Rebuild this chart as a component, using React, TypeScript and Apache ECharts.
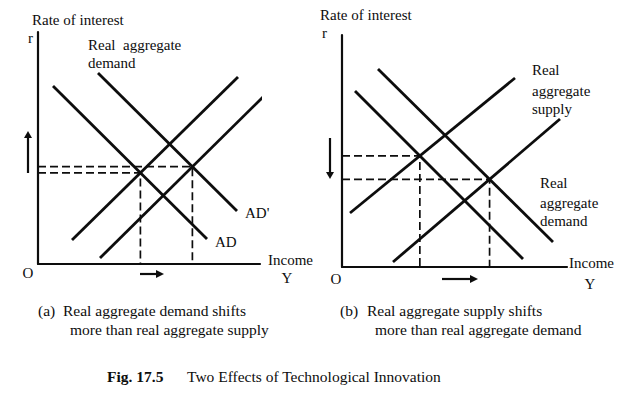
import React, { useEffect, useRef } from "react";
import * as echarts from "echarts";

// Panel (a): curve end points (x = income, y = rate of interest)
const adA: number[][] = [[15, 178], [169, 25]];
const adPrimeA: number[][] = [[60, 191], [199, 53]];
const supplyA1: number[][] = [[34, 24], [200, 187]];
const supplyA2: number[][] = [[62, 6], [229, 171]];

// Panel (b): curve end points
const demandB1: number[][] = [[13, 176], [181, 8]];
const demandB2: number[][] = [[36, 198], [211, 25]];
const supplyB1: number[][] = [[8, 54], [173, 189]];
const supplyB2: number[][] = [[51, 5], [218, 148]];

// Axis extents of each panel
const axisMaxA = [222, 232];
const axisMaxB = [225, 232];

function intersect(a: number[][], b: number[][]): number[] {
  const [[x1, y1], [x2, y2]] = a;
  const [[x3, y3], [x4, y4]] = b;
  const m1 = (y2 - y1) / (x2 - x1);
  const m2 = (y4 - y3) / (x4 - x3);
  const x = (y3 - y1 + m1 * x1 - m2 * x3) / (m1 - m2);
  return [x, y1 + m1 * (x - x1)];
}

const INK = "#0d0d0d";
const FONT = "'Liberation Serif', 'Times New Roman', serif";

export default function App() {
  const ref = useRef<HTMLDivElement>(null);
  useEffect(() => {
    if (!ref.current) return;
    const chart = echarts.init(ref.current, null, { renderer: "svg" });
    const solid = (data: number[][], idx: number) => ({
      type: "line",
      data,
      xAxisIndex: idx,
      yAxisIndex: idx,
      symbol: "none",
      silent: true,
      lineStyle: { color: INK, width: 2.8 },
    });
    const dashed = (e: number[], idx: number) => ({
      type: "line",
      data: [[0, e[1]], [e[0], e[1]], [e[0], 0]],
      xAxisIndex: idx,
      yAxisIndex: idx,
      symbol: "none",
      silent: true,
      lineStyle: { color: INK, width: 1.7, type: [8, 4] },
    });
    const eA1 = intersect(adA, supplyA1);
    const eA2 = intersect(adPrimeA, supplyA2);
    const eB1 = intersect(demandB1, supplyB1);
    const eB2 = intersect(demandB2, supplyB2);
    const axisBase = {
      type: "value",
      axisLine: { show: true, lineStyle: { color: INK, width: 2.2 } },
      axisTick: { show: false },
      axisLabel: { show: false },
      splitLine: { show: false },
    };
    const txt = (
      text: string,
      x: number,
      y: number,
      opts: any = {}
    ) => ({
      type: "text",
      x,
      y,
      silent: true,
      style: {
        text,
        fill: INK,
        font: `${opts.weight || "normal"} ${opts.size || 15}px ${FONT}`,
        textAlign: opts.align || "left",
        textVerticalAlign: "middle",
      },
    });
    const arrowV = (x: number, y0: number, y1: number) => {
      const dir = y1 > y0 ? 1 : -1;
      return [
        {
          type: "line",
          silent: true,
          shape: { x1: x, y1: y0, x2: x, y2: y1 - dir * 6 },
          style: { stroke: INK, lineWidth: 2.2 },
        },
        {
          type: "polygon",
          silent: true,
          shape: { points: [[x - 4, y1 - dir * 7], [x + 4, y1 - dir * 7], [x, y1]] },
          style: { fill: INK },
        },
      ];
    };
    const arrowH = (y: number, x0: number, x1: number) => [
      {
        type: "line",
        silent: true,
        shape: { x1: x0, y1: y, x2: x1 - 6, y2: y },
        style: { stroke: INK, lineWidth: 2.2 },
      },
      {
        type: "polygon",
        silent: true,
        shape: { points: [[x1 - 8, y - 4], [x1 - 8, y + 4], [x1, y]] },
        style: { fill: INK },
      },
    ];
    chart.setOption({
      animation: false,
      backgroundColor: "#ffffff",
      grid: [
        { left: 38, top: 32, width: axisMaxA[0], height: axisMaxA[1] },
        { left: 342, top: 35, width: axisMaxB[0], height: axisMaxB[1] },
      ],
      xAxis: [
        { ...axisBase, gridIndex: 0, min: 0, max: axisMaxA[0] },
        { ...axisBase, gridIndex: 1, min: 0, max: axisMaxB[0] },
      ],
      yAxis: [
        { ...axisBase, gridIndex: 0, min: 0, max: axisMaxA[1] },
        { ...axisBase, gridIndex: 1, min: 0, max: axisMaxB[1] },
      ],
      series: [
        solid(adA, 0),
        solid(adPrimeA, 0),
        solid(supplyA1, 0),
        solid(supplyA2, 0),
        dashed(eA1, 0),
        dashed(eA2, 0),
        solid(demandB1, 1),
        solid(demandB2, 1),
        solid(supplyB1, 1),
        solid(supplyB2, 1),
        dashed(eB1, 1),
        dashed(eB2, 1),
      ],
      graphic: [
        // panel (a)
        txt("Rate of interest", 32, 20),
        txt("r", 28, 38),
        txt("Real  aggregate", 88, 45),
        txt("demand", 88, 63),
        txt("AD'", 245, 213),
        txt("AD", 215, 242),
        txt("Income", 268, 260),
        txt("Y", 287, 278, { align: "center" }),
        txt("O", 28, 273, { align: "center" }),
        ...arrowV(28, 173, 131),
        ...arrowH(274, 140, 164),
        // panel (b)
        txt("Rate of interest", 320, 15),
        txt("r", 322, 33),
        txt("Real", 532, 70),
        txt("aggregate", 532, 91),
        txt("supply", 532, 109),
        txt("Real", 540, 183),
        txt("aggregate", 540, 203),
        txt("demand", 540, 221),
        txt("Income", 569, 263),
        txt("Y", 590, 284, { align: "center" }),
        txt("O", 336, 279, { align: "center" }),
        ...arrowV(330, 138, 179),
        ...arrowH(279, 442, 478),
        // captions
        txt("(a)", 38, 310, { size: 15.5 }),
        txt("Real aggregate demand shifts", 63, 310, { size: 15.5 }),
        txt("more than real aggregate supply", 70, 329, { size: 15.5 }),
        txt("(b)", 340, 310, { size: 15.5 }),
        txt("Real aggregate supply shifts", 367, 310, { size: 15.5 }),
        txt("more than real aggregate demand", 375, 329, { size: 15.5 }),
        txt("Fig. 17.5", 107, 376, { size: 15.5, weight: "bold" }),
        txt("Two Effects of Technological Innovation", 187, 376, { size: 15.5 }),
      ],
    });
    return () => chart.dispose();
  }, []);
  return (
    <div
      ref={ref}
      style={{ position: "absolute", left: 0, top: 0, width: 624, height: 396, background: "#fff" }}
    />
  );
}
